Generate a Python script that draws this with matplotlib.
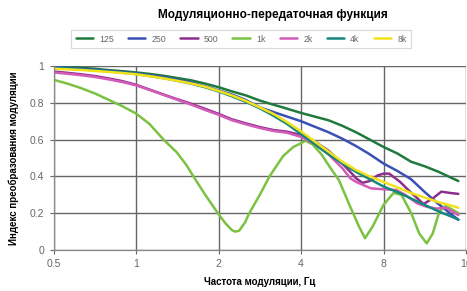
import matplotlib
matplotlib.use("Agg")
import matplotlib.pyplot as plt
from matplotlib.ticker import FixedLocator, NullLocator

plt.rcParams["font.family"] = ["Liberation Sans", "DejaVu Sans"]

# third-octave-ish grid used by the smoother curves
freq = [0.5, 0.56, 0.63, 0.71, 0.79, 0.89, 1.0, 1.12, 1.26, 1.41, 1.59, 1.78,
        2.0, 2.24, 2.52, 2.83, 3.17, 3.56, 4.0, 4.49, 5.04, 5.66, 6.35, 7.13,
        8.0, 8.98, 10.08, 11.31, 12.7, 14.25, 15.0]

mtf_125 = [1.0, 0.995, 0.99, 0.985, 0.978, 0.972, 0.965, 0.957, 0.947, 0.935, 0.922, 0.905,
           0.885, 0.862, 0.84, 0.812, 0.79, 0.768, 0.745, 0.725, 0.705, 0.675, 0.64, 0.6,
           0.56, 0.525, 0.48, 0.455, 0.425, 0.39, 0.375]
mtf_250 = [0.995, 0.99, 0.985, 0.98, 0.974, 0.967, 0.96, 0.95, 0.94, 0.925, 0.91, 0.89,
           0.868, 0.845, 0.815, 0.775, 0.75, 0.725, 0.70, 0.67, 0.64, 0.605, 0.565, 0.52,
           0.47, 0.43, 0.385, 0.315, 0.25, 0.19, 0.165]
mtf_4k = [0.99, 0.986, 0.982, 0.977, 0.971, 0.964, 0.956, 0.946, 0.934, 0.92, 0.904, 0.885,
          0.862, 0.835, 0.805, 0.77, 0.73, 0.685, 0.63, 0.575, 0.52, 0.47, 0.425, 0.385,
          0.345, 0.315, 0.28, 0.245, 0.21, 0.18, 0.165]
mtf_8k = [0.985, 0.982, 0.978, 0.973, 0.968, 0.962, 0.955, 0.945, 0.933, 0.92, 0.905, 0.888,
          0.865, 0.84, 0.81, 0.775, 0.74, 0.695, 0.645, 0.59, 0.535, 0.48, 0.435, 0.4,
          0.37, 0.34, 0.31, 0.285, 0.26, 0.24, 0.23]

freq_500 = [0.5, 0.56, 0.63, 0.71, 0.79, 0.89, 1.0, 1.12, 1.26, 1.41, 1.59, 1.78,
            2.0, 2.24, 2.52, 2.83, 3.17, 3.56, 4.0, 4.49, 5.04, 5.66, 6.05, 6.35,
            6.7, 7.13, 7.6, 8.0, 8.4, 9.2, 10.0, 11.2, 12.1, 13.0, 14.0, 15.0]
mtf_500 = [0.97, 0.963, 0.955, 0.945, 0.933, 0.918, 0.898, 0.872, 0.845, 0.82, 0.795, 0.768,
           0.74, 0.71, 0.688, 0.668, 0.652, 0.643, 0.625, 0.59, 0.54, 0.47, 0.425, 0.39,
           0.365, 0.375, 0.405, 0.415, 0.415, 0.37, 0.317, 0.25, 0.28, 0.317, 0.31, 0.305]

freq_2k = [0.5, 0.56, 0.63, 0.71, 0.79, 0.89, 1.0, 1.12, 1.26, 1.41, 1.59, 1.78,
           2.0, 2.24, 2.52, 2.83, 3.17, 3.56, 4.0, 4.49, 5.04, 5.66, 6.05, 6.35,
           7.2, 8.0, 8.9, 9.6, 10.6, 11.5, 12.5, 13.5, 14.25, 15.0]
mtf_2k = [0.965, 0.958, 0.95, 0.94, 0.928, 0.913, 0.895, 0.87, 0.843, 0.817, 0.79, 0.762,
          0.735, 0.705, 0.683, 0.663, 0.647, 0.637, 0.615, 0.575, 0.52, 0.445, 0.39, 0.37,
          0.335, 0.33, 0.326, 0.3, 0.254, 0.235, 0.225, 0.23, 0.21, 0.19]

freq_1k = [0.5, 0.56, 0.63, 0.71, 0.79, 0.89, 1.0, 1.12, 1.26, 1.41, 1.53, 1.62, 1.78,
           2.0, 2.12, 2.24, 2.3, 2.38, 2.5, 2.59, 2.83, 3.07, 3.44, 3.75, 4.0, 4.15,
           4.4, 4.75, 5.1, 5.5, 6.05, 6.5, 6.85, 7.3, 8.0, 8.7, 9.3, 10.1, 10.8,
           11.5, 12.1, 12.8, 13.5, 14.25, 15.0]
mtf_1k = [0.925, 0.905, 0.88, 0.85, 0.818, 0.782, 0.742, 0.685, 0.60, 0.53, 0.46, 0.40, 0.305,
          0.195, 0.145, 0.108, 0.10, 0.105, 0.15, 0.2, 0.3, 0.40, 0.51, 0.56, 0.58, 0.594,
          0.575, 0.52, 0.45, 0.38, 0.235, 0.13, 0.064, 0.127, 0.245, 0.31, 0.30, 0.2, 0.09,
          0.036, 0.09, 0.21, 0.24, 0.22, 0.2]

series = [
    ("125", freq, mtf_125, "#1f7a3c"),
    ("250", freq, mtf_250, "#3b50b5"),
    ("500", freq_500, mtf_500, "#8e2f8e"),
    ("1k", freq_1k, mtf_1k, "#7cc242"),
    ("2k", freq_2k, mtf_2k, "#d35cb8"),
    ("4k", freq, mtf_4k, "#16877f"),
    ("8k", freq, mtf_8k, "#f2e21c"),
]

x_ticks = [0.5, 1, 2, 4, 8, 16]
x_labels = ["0.5", "1", "2", "4", "8", "16"]
y_ticks = [0, 0.2, 0.4, 0.6, 0.8, 1]
y_labels = ["0", "0.2", "0.4", "0.6", "0.8", "1"]

W, H = 467, 291
fig = plt.figure(figsize=(W / 100, H / 100), dpi=100)
ax = fig.add_axes([53.5 / W, 1 - 250 / H, (466 - 53.5) / W, 184 / H])

for label, xs, ys, color in series:
    ax.plot(xs, ys, color=color, linewidth=1.8, label=label,
            solid_capstyle="round", solid_joinstyle="round")

ax.set_xscale("log")
ax.set_xlim(0.5, 16)
ax.set_ylim(0, 1)
ax.xaxis.set_major_locator(FixedLocator(x_ticks))
ax.xaxis.set_minor_locator(NullLocator())
ax.set_xticklabels(x_labels)
ax.set_yticks(y_ticks)
ax.set_yticklabels(y_labels)
ax.tick_params(axis="both", labelsize=7.5, colors="#666666", length=3, width=0.8)
ax.grid(True, color="#666666", linewidth=1.0)
ax.set_axisbelow(True)
for side in ("top", "right"):
    ax.spines[side].set_visible(False)
for side in ("left", "bottom"):
    ax.spines[side].set_color("#888888")
    ax.spines[side].set_linewidth(0.9)

ax.set_xlabel("Частота модуляции, Гц", fontsize=7, fontweight="bold", labelpad=6)
ax.set_ylabel("Индекс преобразования модуляции", fontsize=7, fontweight="bold", labelpad=8)

fig.text(273 / W, 1 - 15 / H, "Модуляционно-передаточная функция",
         ha="center", va="center", fontsize=8.5, fontweight="bold")

leg = fig.legend(loc="center", bbox_to_anchor=(241 / W, 1 - 39 / H), ncol=7,
                 fontsize=6.3, frameon=True, fancybox=False, handlelength=2.0,
                 handletextpad=0.7, columnspacing=1.6, borderpad=0.5)
leg.get_frame().set_edgecolor("#d0d0d0")
leg.get_frame().set_linewidth(0.8)
for text in leg.get_texts():
    text.set_color("#666666")

fig.savefig("out.png", dpi=100)
